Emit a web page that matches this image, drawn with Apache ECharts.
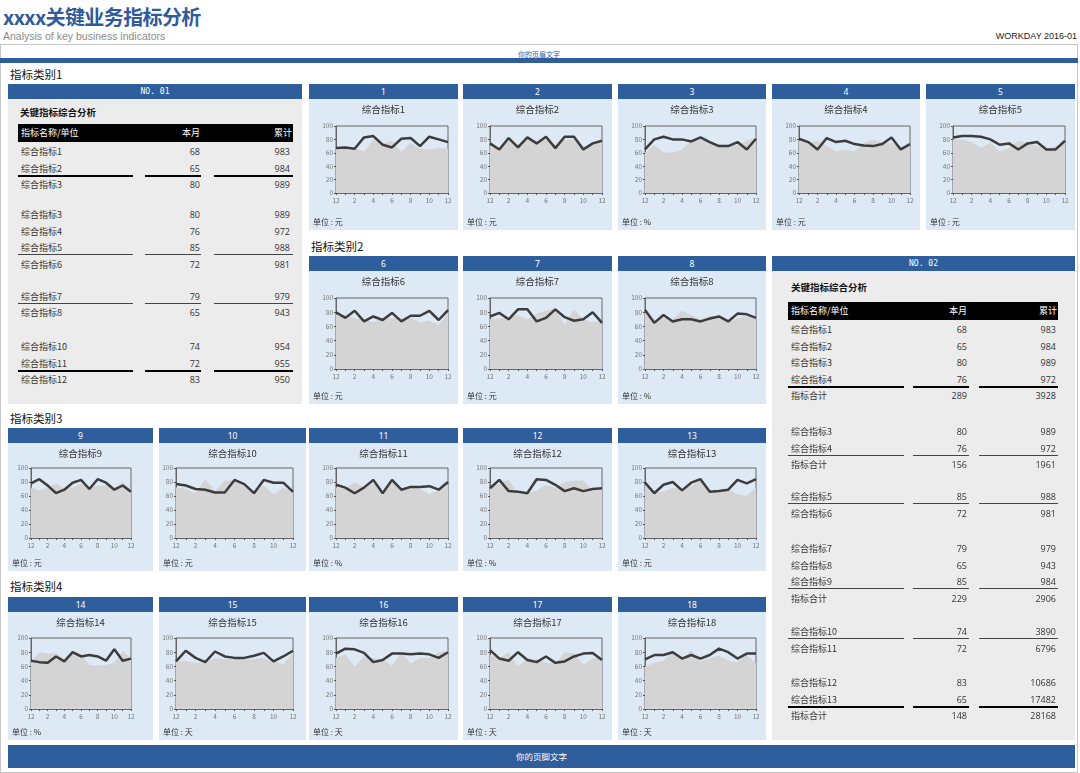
<!DOCTYPE html>
<html><head><meta charset="utf-8">
<script src="https://cdn.jsdelivr.net/npm/echarts@6/dist/echarts.min.js"></script>
<style>
body{margin:0;width:1080px;height:773px;position:relative;background:#fff;font-family:"Noto Sans CJK SC","Noto Sans",sans-serif;overflow:hidden;color:#333}
.a{position:absolute;white-space:nowrap}
.hd{position:absolute;left:0;top:0;right:0;height:15px;background:#2f5e9c;color:#fff;font-size:8.5px;line-height:15px;text-align:center;font-family:"Noto Sans","DejaVu Sans",sans-serif}
.hd.mono{font-family:"DejaVu Sans Mono","Liberation Mono",monospace;font-size:8px}
.cp{position:absolute;background:#dde9f5}
.tp{position:absolute;background:#ececec}
.unit{position:absolute;left:4px;bottom:3px;font-size:8px;line-height:10px;color:#333}
.sec{position:absolute;font-size:11.5px;color:#111;line-height:14px}
</style></head><body>
<script>
// ---------- data ----------
const months = ['12','1','2','3','4','5','6','7','8','9','10','11','12'];
const chartNames = ['综合指标1','综合指标2','综合指标3','综合指标4','综合指标5','综合指标6','综合指标7','综合指标8','综合指标9','综合指标10','综合指标11','综合指标12','综合指标13','综合指标14','综合指标15','综合指标16','综合指标17','综合指标18'];
const chartUnits = ['元','元','%','元','元','元','元','%','元','元','%','%','元','%','天','天','天','天'];
const sectionLabels = ['指标类别1','指标类别2','指标类别3','指标类别4'];

const cur1 = [67,68,66,83,85,72,68,81,82,70,84,80,76];
const ref1 = [66,67,67,62,80,74,78,62,75,66,65,67,66];
const cur2 = [74,65,82,68,83,74,84,67,84,84,65,74,78];
const ref2 = [70,68,78,72,80,78,80,72,80,80,70,72,78];
const cur3 = [65,80,84,80,80,77,83,76,70,70,76,65,81];
const ref3 = [60,72,61,60,65,78,80,75,70,72,72,78,83];
const cur4 = [81,76,65,82,76,78,73,71,70,73,83,65,73];
const ref4 = [78,75,78,70,62,65,62,75,80,76,75,68,72];
const cur5 = [83,85,85,84,80,72,74,65,74,76,65,65,78];
const ref5 = [80,80,76,67,75,62,67,78,75,70,65,70,76];
const cur6 = [80,72,82,67,74,69,79,67,75,75,82,69,83];
const ref6 = [76,76,72,70,66,72,72,72,72,65,68,62,80];
const cur7 = [74,79,70,84,84,67,72,84,73,68,70,80,65];
const ref7 = [70,72,72,76,70,78,82,86,62,84,70,66,68];
const cur8 = [83,65,76,67,70,70,67,71,74,67,78,77,72];
const ref8 = [80,68,72,70,82,76,70,75,72,66,72,74,70];
const cur9 = [78,84,75,64,69,79,83,70,84,79,69,75,66];
const ref9 = [72,68,72,78,70,72,78,74,75,75,72,80,70];
const cur10 = [77,75,70,69,65,65,83,77,64,83,79,79,66];
const ref10 = [72,70,64,84,67,82,82,74,65,75,62,72,65];
const cur11 = [76,72,64,72,83,64,83,69,73,73,74,69,80];
const ref11 = [72,70,80,72,82,66,82,70,72,70,63,68,76];
const cur12 = [71,83,67,66,64,84,83,76,67,71,67,70,71];
const ref12 = [72,78,84,62,64,68,76,72,80,82,82,68,70];
const cur13 = [79,64,76,80,68,79,84,66,67,69,83,78,84];
const ref13 = [76,65,66,72,70,74,84,66,68,70,62,60,72];
const cur14 = [68,66,65,74,67,80,74,76,74,68,84,68,71];
const ref14 = [66,80,78,79,70,78,78,62,61,62,65,82,72];
const cur15 = [67,82,72,66,81,74,72,72,75,79,67,74,82];
const ref15 = [67,68,65,65,72,70,70,70,70,72,67,63,80];
const cur16 = [78,85,84,79,66,69,78,78,77,78,77,72,80];
const ref16 = [72,77,60,74,72,70,61,80,64,72,72,80,82];
const cur17 = [83,71,68,80,69,66,74,65,67,74,78,79,69];
const ref17 = [76,72,80,60,72,70,65,64,80,78,62,72,72];
const cur18 = [70,76,76,80,71,76,71,76,85,80,71,78,78];
const ref18 = [60,65,68,80,70,83,67,72,75,68,66,76,64];

const curList = [cur1,cur2,cur3,cur4,cur5,cur6,cur7,cur8,cur9,cur10,cur11,cur12,cur13,cur14,cur15,cur16,cur17,cur18];
const refList = [ref1,ref2,ref3,ref4,ref5,ref6,ref7,ref8,ref9,ref10,ref11,ref12,ref13,ref14,ref15,ref16,ref17,ref18];

const t1Names = ['综合指标1','综合指标2','综合指标3',null,'综合指标3','综合指标4','综合指标5','综合指标6',null,'综合指标7','综合指标8',null,'综合指标10','综合指标11','综合指标12'];
const t1Month = [68,65,80,null,80,76,85,72,null,79,65,null,74,72,83];
const t1Total = [983,984,989,null,989,972,988,981,null,979,943,null,954,955,950];

const t2Names = ['综合指标1','综合指标2','综合指标3','综合指标4','指标合计',null,'综合指标3','综合指标4','指标合计',null,'综合指标5','综合指标6',null,'综合指标7','综合指标8','综合指标9','指标合计',null,'综合指标10','综合指标11',null,'综合指标12','综合指标13','指标合计'];
const t2Month = [68,65,80,76,289,null,80,76,156,null,85,72,null,79,65,85,229,null,74,72,null,83,65,148];
const t2Total = [983,984,989,972,3928,null,989,972,1961,null,988,981,null,979,943,984,2906,null,3890,6796,null,10686,17482,28168];

// ---------- layout ----------
function el(tag, cls, style, text, parent){
  const d=document.createElement(tag); if(cls) d.className=cls;
  Object.assign(d.style, style||{}); if(text!=null) d.textContent=text;
  (parent||document.body).appendChild(d); return d;
}
// page header
el('div','a',{left:'3px',top:'2px',fontSize:'20px',fontWeight:'bold',color:'#2f5b9b',lineHeight:'30px',letterSpacing:'-0.6px'},'xxxx关键业务指标分析');
el('div','a',{left:'3px',top:'29px',fontSize:'10.5px',color:'#8a8a8a',lineHeight:'14px',fontFamily:'Arial,"Liberation Sans",sans-serif'},'Analysis of key business indicators');
el('div','a',{right:'3px',top:'30px',fontSize:'9px',color:'#222',lineHeight:'12px',fontFamily:'Arial,"Liberation Sans",sans-serif'},'WORKDAY 2016-01');
el('div','a',{left:'0px',top:'44px',width:'1076px',height:'727px',border:'1px solid #c6c6c6'});
el('div','a',{left:'0px',top:'50px',width:'1078px',textAlign:'center',fontSize:'7px',color:'#2f5e9c',lineHeight:'9px'},'你的页眉文字');
el('div','a',{left:'0px',top:'58px',width:'1078px',height:'5px',background:'#2f5e9c'});
// footer
el('div','a',{left:'8px',top:'745px',width:'1067px',height:'23px',background:'#2f5e9c',color:'#fff',fontSize:'8.5px',lineHeight:'23px',textAlign:'center'},'你的页脚文字');

// section labels
const secPos=[[10,67],[311,239],[10,411],[10,579]];
sectionLabels.forEach((s,i)=>el('div','sec',{left:secPos[i][0]+'px',top:secPos[i][1]+'px'},s));

// chart panels: x,row,w, grid left/right
const R1={y:84,h:146,t:27,b:37}, R2={y:256,h:148,t:27,b:35}, R3={y:428,h:143,t:25,b:33}, R4={y:597,h:143,t:26,b:31};
const panels=[
 [309,R1,149,27,10],[463,R1,149,27,10],[618,R1,148,27,10],[772,R1,148,27,10],[926,R1,149,27,10],
 [309,R2,149,27,10],[463,R2,149,27,10],[618,R2,148,27,10],
 [8,R3,145,23,22],[159,R3,147,17,13],[309,R3,149,27,10],[463,R3,149,27,10],[618,R3,148,27,10],
 [8,R4,145,23,22],[159,R4,147,17,13],[309,R4,149,27,10],[463,R4,149,27,10],[618,R4,148,27,10]
];
const charts=[];
panels.forEach((p,i)=>{
  const [x,row,w,gl,gr]=p;
  const box=el('div','cp',{left:x+'px',top:row.y+'px',width:w+'px',height:row.h+'px'});
  el('div','hd',{},String(i+1),box);
  const cd=el('div','',{position:'absolute',left:'0px',top:'15px',width:w+'px',height:(row.h-15)+'px'},null,box);
  el('div','unit',{},'单位 : '+chartUnits[i],box);
  const c=echarts.init(cd,null,{renderer:'canvas'});
  c.setOption({
    animation:false,
    textStyle:{fontFamily:'"Noto Sans CJK SC","Noto Sans",sans-serif'},
    title:{text:chartNames[i],left:'center',top:1,textStyle:{fontSize:9.5,fontWeight:'normal',color:'#333'}},
    grid:{left:gl,right:gr,top:row.t,bottom:row.b,show:true,borderColor:'#666',borderWidth:1,backgroundColor:'transparent'},
    xAxis:{type:'category',data:months,boundaryGap:false,
      axisLine:{lineStyle:{color:'#666',width:1}},
      axisTick:{show:true,interval:0,length:2,lineStyle:{color:'#555'}},
      axisLabel:{interval:1,fontSize:6.5,color:'#777',margin:4}},
    yAxis:{type:'value',min:0,max:100,interval:20,
      axisLine:{show:true,lineStyle:{color:'#666'}},
      axisTick:{show:true,length:2,lineStyle:{color:'#555'}},
      axisLabel:{fontSize:6.5,color:'#777',margin:3},splitLine:{show:false}},
    series:[
      {type:'line',data:refList[i],symbol:'none',lineStyle:{width:0},areaStyle:{color:'#d4d4d4',opacity:1},z:1,silent:true},
      {type:'line',data:curList[i],symbol:'none',lineStyle:{width:2.5,color:'#3c3c3c'},z:2,silent:true}
    ]
  });
  charts.push(c);
});

// tables
function buildTable(cfg, names, mon, tot){
  const box=el('div','tp',{left:cfg.x+'px',top:cfg.y+'px',width:cfg.w+'px',height:cfg.h+'px'});
  el('div','hd mono',{},cfg.no,box);
  const ox=cfg.x, oy=cfg.y;
  el('div','a',{left:(cfg.titleX-ox)+'px',top:(cfg.titleY-oy-7)+'px',fontSize:'9.5px',fontWeight:'bold',color:'#111',lineHeight:'14px'},'关键指标综合分析',box);
  el('div','a',{left:(cfg.c1[0]-ox)+'px',top:(cfg.hY0-oy)+'px',width:(cfg.c3[1]-cfg.c1[0])+'px',height:(cfg.hY1-cfg.hY0)+'px',background:'#000'},null,box);
  const hy=(cfg.hY0+cfg.hY1)/2-oy-7;
  el('div','a',{left:(cfg.textX-ox)+'px',top:hy+'px',fontSize:'9px',color:'#fff',lineHeight:'14px'},'指标名称/单位',box);
  el('div','a',{left:(cfg.r2-ox-60)+'px',width:'60px',textAlign:'right',top:hy+'px',fontSize:'9px',color:'#fff',lineHeight:'14px'},'本月',box);
  el('div','a',{left:(cfg.r3h-ox-60)+'px',width:'60px',textAlign:'right',top:hy+'px',fontSize:'9px',color:'#fff',lineHeight:'14px'},'累计',box);
  let y=cfg.y0, g=0;
  names.forEach((n,i)=>{
    if(n===null){ y+=cfg.gaps[g++]; return; }
    const ty=y-oy-7;
    el('div','a',{left:(cfg.textX-ox)+'px',top:ty+'px',fontSize:'9px',lineHeight:'14px',color:'#333'},n,box);
    el('div','a',{left:(cfg.r2-ox-60)+'px',width:'60px',textAlign:'right',top:ty+'px',fontSize:'9px',lineHeight:'14px',color:'#333',fontFamily:'"Open Sans","Noto Sans",sans-serif'},String(mon[i]),box);
    el('div','a',{left:(cfg.r3-ox-60)+'px',width:'60px',textAlign:'right',top:ty+'px',fontSize:'9px',lineHeight:'14px',color:'#333',fontFamily:'"Open Sans","Noto Sans",sans-serif'},String(tot[i]),box);
    const r=cfg.rules[i];
    if(r){
      const hgt=r==='thick'?2:1, col=r==='thick'?'#000':'#444';
      [cfg.c1,cfg.c2,cfg.c3].forEach(c=>el('div','a',{left:(c[0]-ox)+'px',top:(y+6-oy)+'px',width:(c[1]-c[0])+'px',height:hgt+'px',background:col},null,box));
    }
    y+=cfg.step;
  });
}
buildTable({x:8,y:84,w:294,h:320,no:'NO. 01',titleX:20,titleY:112,hY0:124,hY1:142,textX:21,
  c1:[18,133],c2:[145,201],c3:[214,293],r2:200,r3:290,r3h:292,y0:152,step:16.5,gaps:[13.5,15.5,17.5],
  rules:{1:'thick',6:'thin',9:'thin',13:'thick'}}, t1Names,t1Month,t1Total);
buildTable({x:772,y:256,w:303,h:484,no:'NO. 02',titleX:791,titleY:287,hY0:302,hY1:320,textX:791,
  c1:[788,904],c2:[913,969],c3:[979,1058],r2:967,r3:1056,r3h:1057,y0:330,step:16.6,gaps:[19,15.2,18.8,16.6,17.8],
  rules:{3:'thick',7:'thin',10:'thin',15:'thin',18:'thin',22:'thick'}}, t2Names,t2Month,t2Total);
</script>
</body></html>
